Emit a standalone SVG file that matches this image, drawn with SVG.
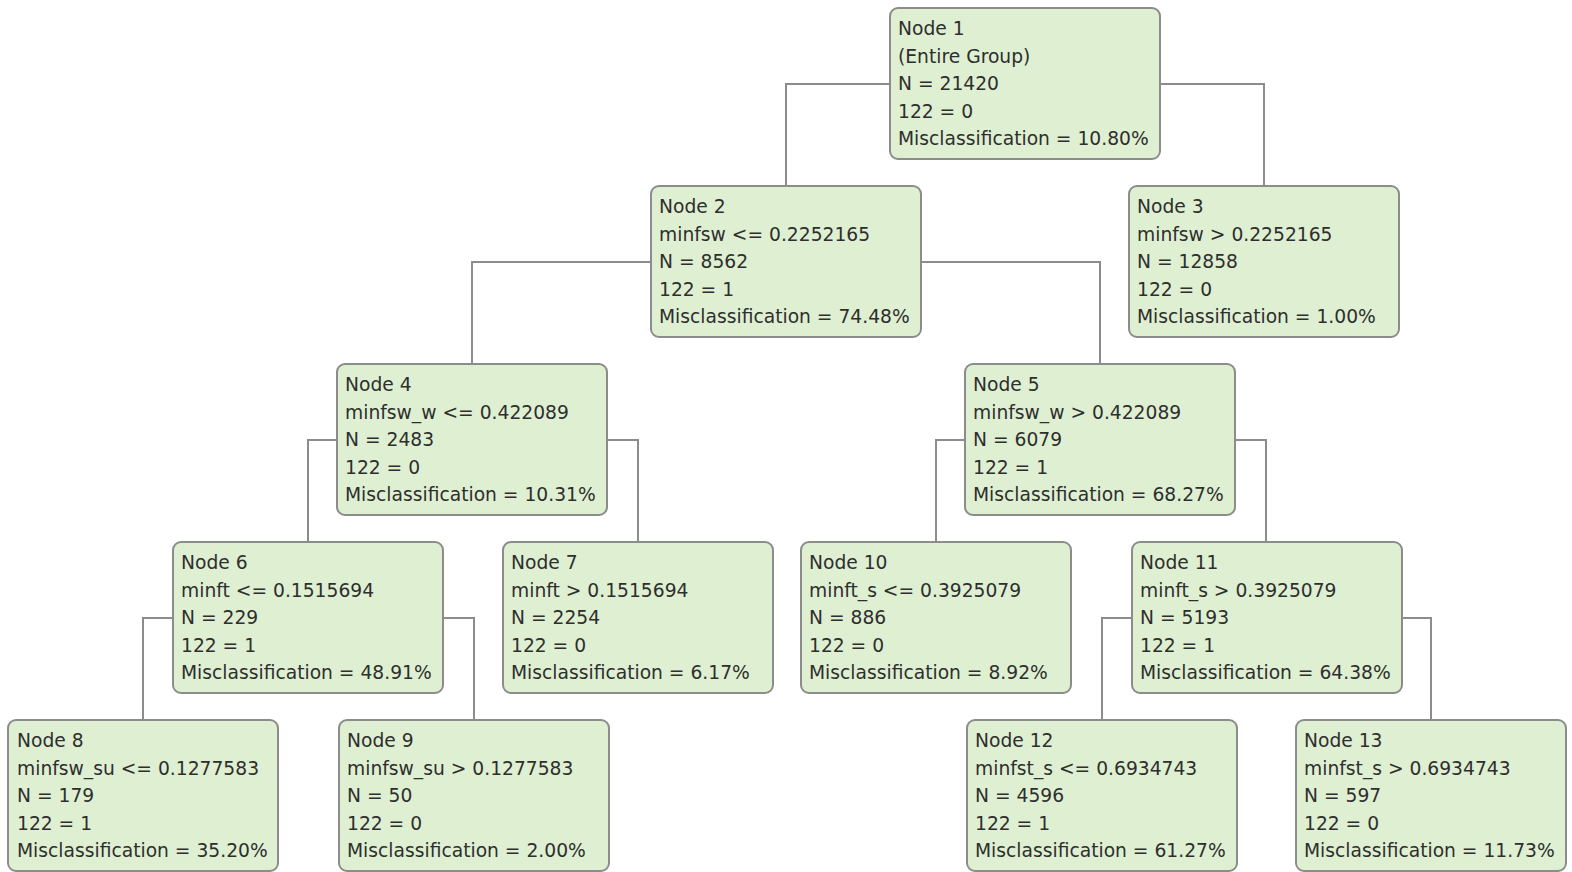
<svg xmlns="http://www.w3.org/2000/svg" width="1572" height="872" viewBox="0 0 1572 872">
<style>
.box{fill:#dff0d2;stroke:#8c8c8c;stroke-width:2}
.t{font-family:"DejaVu Sans",sans-serif;font-size:18.7px;fill:#2e2e2e}
.c{fill:none;stroke:#8c8c8c;stroke-width:2}
</style>
<rect width="1572" height="872" fill="#ffffff"/>
<g id="connectors">
<path class="c" d="M890 84 H786 V186"/>
<path class="c" d="M1160 84 H1264 V186"/>
<path class="c" d="M651 262 H472 V364"/>
<path class="c" d="M921 262 H1100 V364"/>
<path class="c" d="M337 440 H308 V542"/>
<path class="c" d="M607 440 H638 V542"/>
<path class="c" d="M965 440 H936 V542"/>
<path class="c" d="M1235 440 H1266 V542"/>
<path class="c" d="M173 618 H143 V720"/>
<path class="c" d="M443 618 H474 V720"/>
<path class="c" d="M1132 618 H1102 V720"/>
<path class="c" d="M1402 618 H1431 V720"/>
</g>
<g id="node1"><rect class="box" x="890" y="8" width="270" height="151" rx="8"/>
<text class="t" x="898" y="35">Node 1</text><text class="t" x="898" y="62.5">(Entire Group)</text><text class="t" x="898" y="90">N = 21420</text><text class="t" x="898" y="117.5">122 = 0</text><text class="t" x="898" y="145">Misclassification = 10.80%</text></g>
<g id="node2"><rect class="box" x="651" y="186" width="270" height="151" rx="8"/>
<text class="t" x="659" y="213">Node 2</text><text class="t" x="659" y="240.5">minfsw &lt;= 0.2252165</text><text class="t" x="659" y="268">N = 8562</text><text class="t" x="659" y="295.5">122 = 1</text><text class="t" x="659" y="323">Misclassification = 74.48%</text></g>
<g id="node3"><rect class="box" x="1129" y="186" width="270" height="151" rx="8"/>
<text class="t" x="1137" y="213">Node 3</text><text class="t" x="1137" y="240.5">minfsw &gt; 0.2252165</text><text class="t" x="1137" y="268">N = 12858</text><text class="t" x="1137" y="295.5">122 = 0</text><text class="t" x="1137" y="323">Misclassification = 1.00%</text></g>
<g id="node4"><rect class="box" x="337" y="364" width="270" height="151" rx="8"/>
<text class="t" x="345" y="391">Node 4</text><text class="t" x="345" y="418.5">minfsw_w &lt;= 0.422089</text><text class="t" x="345" y="446">N = 2483</text><text class="t" x="345" y="473.5">122 = 0</text><text class="t" x="345" y="501">Misclassification = 10.31%</text></g>
<g id="node5"><rect class="box" x="965" y="364" width="270" height="151" rx="8"/>
<text class="t" x="973" y="391">Node 5</text><text class="t" x="973" y="418.5">minfsw_w &gt; 0.422089</text><text class="t" x="973" y="446">N = 6079</text><text class="t" x="973" y="473.5">122 = 1</text><text class="t" x="973" y="501">Misclassification = 68.27%</text></g>
<g id="node6"><rect class="box" x="173" y="542" width="270" height="151" rx="8"/>
<text class="t" x="181" y="569">Node 6</text><text class="t" x="181" y="596.5">minft &lt;= 0.1515694</text><text class="t" x="181" y="624">N = 229</text><text class="t" x="181" y="651.5">122 = 1</text><text class="t" x="181" y="679">Misclassification = 48.91%</text></g>
<g id="node7"><rect class="box" x="503" y="542" width="270" height="151" rx="8"/>
<text class="t" x="511" y="569">Node 7</text><text class="t" x="511" y="596.5">minft &gt; 0.1515694</text><text class="t" x="511" y="624">N = 2254</text><text class="t" x="511" y="651.5">122 = 0</text><text class="t" x="511" y="679">Misclassification = 6.17%</text></g>
<g id="node10"><rect class="box" x="801" y="542" width="270" height="151" rx="8"/>
<text class="t" x="809" y="569">Node 10</text><text class="t" x="809" y="596.5">minft_s &lt;= 0.3925079</text><text class="t" x="809" y="624">N = 886</text><text class="t" x="809" y="651.5">122 = 0</text><text class="t" x="809" y="679">Misclassification = 8.92%</text></g>
<g id="node11"><rect class="box" x="1132" y="542" width="270" height="151" rx="8"/>
<text class="t" x="1140" y="569">Node 11</text><text class="t" x="1140" y="596.5">minft_s &gt; 0.3925079</text><text class="t" x="1140" y="624">N = 5193</text><text class="t" x="1140" y="651.5">122 = 1</text><text class="t" x="1140" y="679">Misclassification = 64.38%</text></g>
<g id="node8"><rect class="box" x="8" y="720" width="270" height="151" rx="8"/>
<text class="t" x="17" y="747">Node 8</text><text class="t" x="17" y="774.5">minfsw_su &lt;= 0.1277583</text><text class="t" x="17" y="802">N = 179</text><text class="t" x="17" y="829.5">122 = 1</text><text class="t" x="17" y="857">Misclassification = 35.20%</text></g>
<g id="node9"><rect class="box" x="339" y="720" width="270" height="151" rx="8"/>
<text class="t" x="347" y="747">Node 9</text><text class="t" x="347" y="774.5">minfsw_su &gt; 0.1277583</text><text class="t" x="347" y="802">N = 50</text><text class="t" x="347" y="829.5">122 = 0</text><text class="t" x="347" y="857">Misclassification = 2.00%</text></g>
<g id="node12"><rect class="box" x="967" y="720" width="270" height="151" rx="8"/>
<text class="t" x="975" y="747">Node 12</text><text class="t" x="975" y="774.5">minfst_s &lt;= 0.6934743</text><text class="t" x="975" y="802">N = 4596</text><text class="t" x="975" y="829.5">122 = 1</text><text class="t" x="975" y="857">Misclassification = 61.27%</text></g>
<g id="node13"><rect class="box" x="1296" y="720" width="270" height="151" rx="8"/>
<text class="t" x="1304" y="747">Node 13</text><text class="t" x="1304" y="774.5">minfst_s &gt; 0.6934743</text><text class="t" x="1304" y="802">N = 597</text><text class="t" x="1304" y="829.5">122 = 0</text><text class="t" x="1304" y="857">Misclassification = 11.73%</text></g>
</svg>
